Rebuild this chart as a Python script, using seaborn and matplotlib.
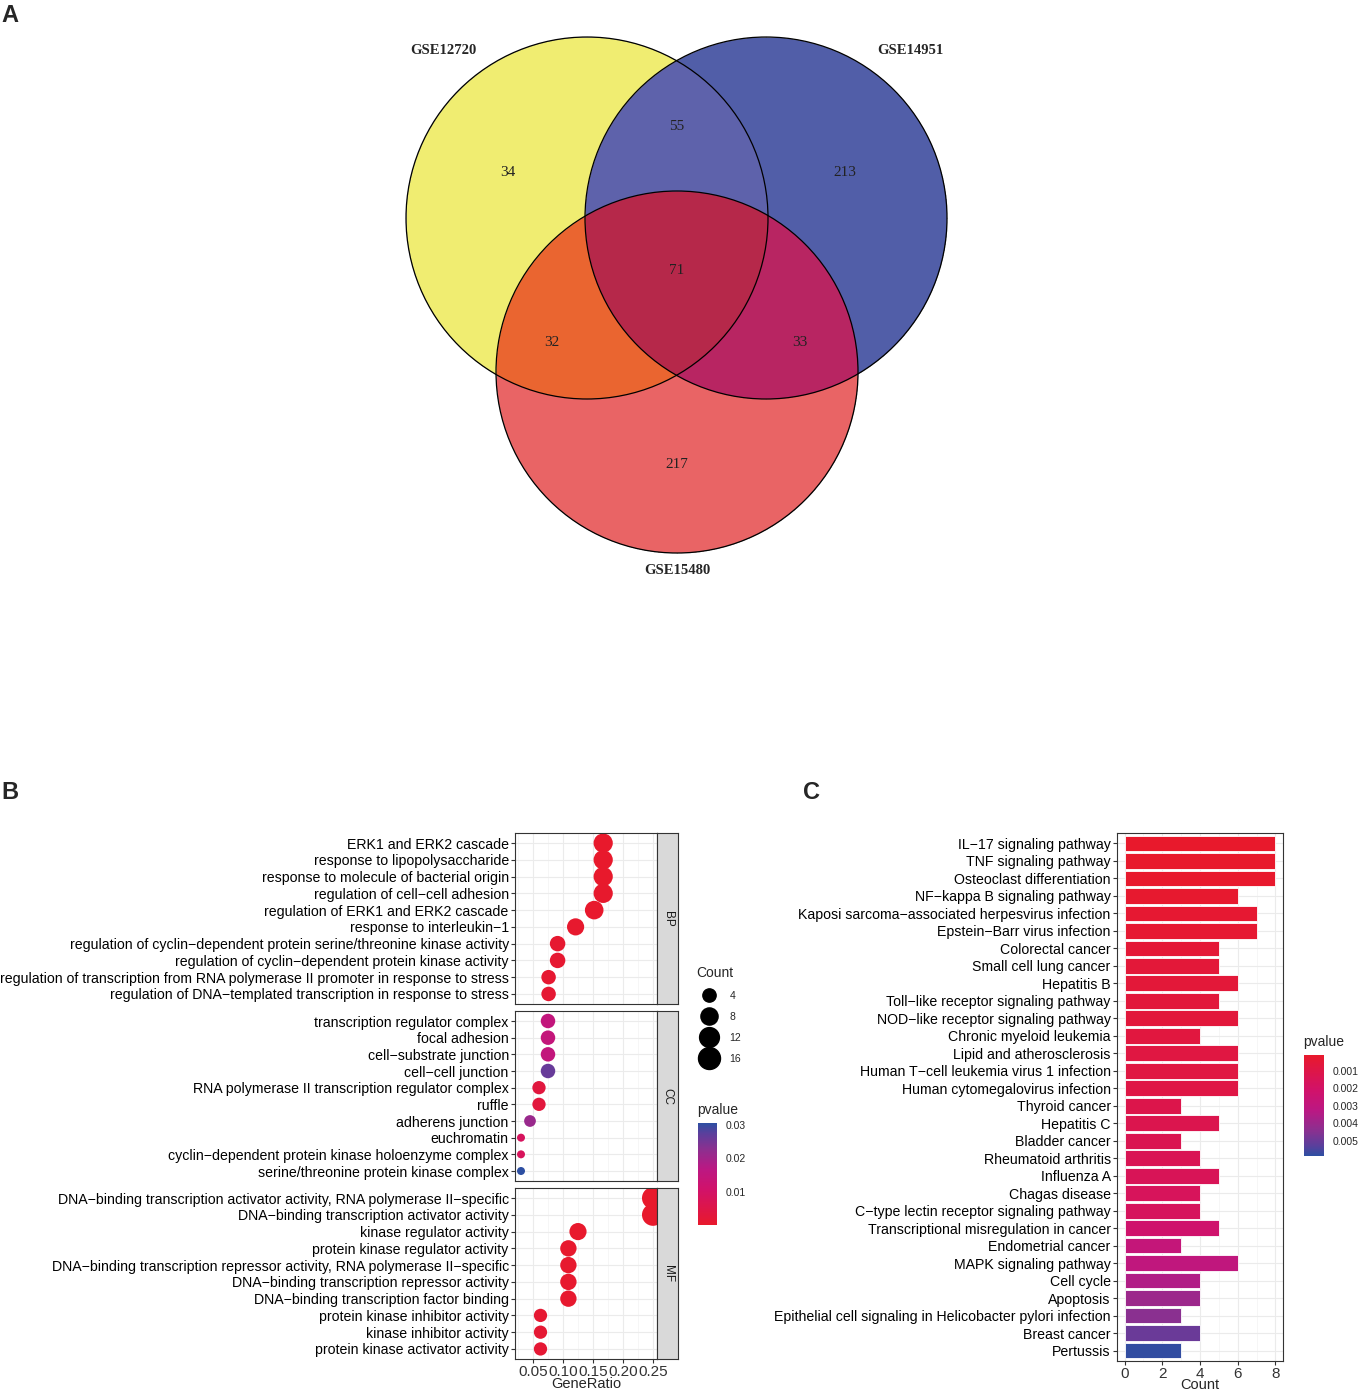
import numpy as np
import pandas as pd
import matplotlib
matplotlib.use("Agg")
import matplotlib.pyplot as plt
import seaborn as sns
from matplotlib.colors import LinearSegmentedColormap, Normalize, to_rgba
from matplotlib.colorbar import ColorbarBase
from matplotlib.lines import Line2D
from matplotlib.patches import Circle

# ---- data -------------------------------------------------------------
venn_sets = ["GSE12720", "GSE14951", "GSE15480"]
venn_regions = ["A", "B", "C", "AB", "AC", "BC", "ABC"]
venn_counts = [34, 213, 217, 55, 32, 33, 71]

bp_terms = [
    "ERK1 and ERK2 cascade",
    "response to lipopolysaccharide",
    "response to molecule of bacterial origin",
    "regulation of cell\u2212cell adhesion",
    "regulation of ERK1 and ERK2 cascade",
    "response to interleukin\u22121",
    "regulation of cyclin\u2212dependent protein serine/threonine kinase activity",
    "regulation of cyclin\u2212dependent protein kinase activity",
    "regulation of transcription from RNA polymerase II promoter in response to stress",
    "regulation of DNA\u2212templated transcription in response to stress",
]
bp_ratio = [0.167, 0.167, 0.167, 0.167, 0.152, 0.121, 0.091, 0.091, 0.076, 0.076]
bp_count = [11, 11, 11, 11, 10, 8, 6, 6, 5, 5]
bp_pvalue = [0.00001, 0.00002, 0.00002, 0.0003, 0.0002, 0.0004, 0.0008, 0.0009, 0.0010, 0.0012]

cc_terms = [
    "transcription regulator complex",
    "focal adhesion",
    "cell\u2212substrate junction",
    "cell\u2212cell junction",
    "RNA polymerase II transcription regulator complex",
    "ruffle",
    "adherens junction",
    "euchromatin",
    "cyclin\u2212dependent protein kinase holoenzyme complex",
    "serine/threonine protein kinase complex",
]
cc_ratio = [0.075, 0.075, 0.075, 0.075, 0.060, 0.060, 0.045, 0.030, 0.030, 0.030]
cc_count = [5, 5, 5, 5, 4, 4, 3, 2, 2, 2]
cc_pvalue = [0.0150, 0.0145, 0.0150, 0.0262, 0.0032, 0.0030, 0.0210, 0.0085, 0.0080, 0.0305]

mf_terms = [
    "DNA\u2212binding transcription activator activity, RNA polymerase II\u2212specific",
    "DNA\u2212binding transcription activator activity",
    "kinase regulator activity",
    "protein kinase regulator activity",
    "DNA\u2212binding transcription repressor activity, RNA polymerase II\u2212specific",
    "DNA\u2212binding transcription repressor activity",
    "DNA\u2212binding transcription factor binding",
    "protein kinase inhibitor activity",
    "kinase inhibitor activity",
    "protein kinase activator activity",
]
mf_ratio = [0.250, 0.250, 0.125, 0.109, 0.109, 0.109, 0.109, 0.0625, 0.0625, 0.0625]
mf_count = [16, 16, 8, 7, 7, 7, 7, 4, 4, 4]
mf_pvalue = [0.00001, 0.00001, 0.0002, 0.0004, 0.0005, 0.0006, 0.0006, 0.0010, 0.0012, 0.0014]

kegg_terms = [
    "IL\u221217 signaling pathway", "TNF signaling pathway", "Osteoclast differentiation",
    "NF\u2212kappa B signaling pathway", "Kaposi sarcoma\u2212associated herpesvirus infection",
    "Epstein\u2212Barr virus infection", "Colorectal cancer", "Small cell lung cancer",
    "Hepatitis B", "Toll\u2212like receptor signaling pathway", "NOD\u2212like receptor signaling pathway",
    "Chronic myeloid leukemia", "Lipid and atherosclerosis", "Human T\u2212cell leukemia virus 1 infection",
    "Human cytomegalovirus infection", "Thyroid cancer", "Hepatitis C", "Bladder cancer",
    "Rheumatoid arthritis", "Influenza A", "Chagas disease", "C\u2212type lectin receptor signaling pathway",
    "Transcriptional misregulation in cancer", "Endometrial cancer", "MAPK signaling pathway",
    "Cell cycle", "Apoptosis", "Epithelial cell signaling in Helicobacter pylori infection",
    "Breast cancer", "Pertussis",
]
kegg_count = [8, 8, 8, 6, 7, 7, 5, 5, 6, 5, 6, 4, 6, 6, 6, 3, 5, 3, 4, 5, 4, 4, 5, 3, 6, 4, 4, 3, 4, 3]
kegg_pvalue = [0.00010, 0.00010, 0.00012, 0.00020, 0.00030, 0.00030, 0.00040, 0.00050, 0.00050,
               0.00060, 0.00060, 0.00070, 0.00080, 0.00080, 0.00090, 0.00110, 0.00120, 0.00130,
               0.00140, 0.00150, 0.00160, 0.00170, 0.00220, 0.00280, 0.00300, 0.00350, 0.00400,
               0.00440, 0.00500, 0.00580]

# ---- layout helpers ---------------------------------------------------
W, H = 1358, 1391
fig = plt.figure(figsize=(W / 100, H / 100), dpi=100)
sns.set_style("white")
plt.rcParams["font.family"] = ["Liberation Sans", "DejaVu Sans"]

LABEL_FS = 10.2
TICK_FS = 11


def ax_px(x0, y0, x1, y1):
    return fig.add_axes([x0 / W, 1 - y1 / H, (x1 - x0) / W, (y1 - y0) / H])


cmap = LinearSegmentedColormap.from_list(
    "pval", [(0.0, "#E8192C"), (0.35, "#D1126A"), (0.55, "#BB1883"),
             (0.75, "#8A3090"), (0.9, "#5A3F9C"), (1.0, "#2D4FA2")])

# ---- panel A: Venn ----------------------------------------------------
axv = ax_px(0, 0, W, 640)
axv.set_xlim(0, W)
axv.set_ylim(640, 0)
axv.axis("off")
centers = [(587, 218), (766, 218), (677, 372)]
radius = 181
region_colors = {1: "#F0EE71", 2: "#525FA8", 4: "#EA6465", 3: "#5E62AB",
                 5: "#EB6530", 6: "#B82562", 7: "#B6284A"}
xs = np.arange(400, 960, 0.5)
ys = np.arange(30, 560, 0.5)
gx, gy = np.meshgrid(xs, ys)
code = np.zeros(gx.shape, dtype=int)
for i, (cx, cy) in enumerate(centers):
    code += ((gx - cx) ** 2 + (gy - cy) ** 2 <= radius ** 2).astype(int) << i
img = np.zeros(gx.shape + (4,))
for k, col in region_colors.items():
    img[code == k] = to_rgba(col)
axv.imshow(img, extent=(400, 960, 560, 30), origin="upper", aspect="auto",
           interpolation="antialiased")
for cx, cy in centers:
    axv.add_patch(Circle((cx, cy), radius, fill=False, ec="black", lw=0.9))

region_label_xy = {"A": (508, 172), "B": (845, 172), "C": (677, 464), "AB": (677, 126),
                   "AC": (552, 342), "BC": (800, 342), "ABC": (677, 270)}
for reg, n in zip(venn_regions, venn_counts):
    x, y = region_label_xy[reg]
    axv.text(x, y, str(n), ha="center", va="center", fontsize=11,
             family="Liberation Serif", color="#222222")
set_label_xy = [(443, 50), (910, 50), (677, 571)]
for name, (x, y) in zip(venn_sets, set_label_xy):
    axv.text(x, y, name, ha="center", va="center", fontsize=10.5,
             family="Liberation Serif", fontweight="bold")

# ---- panel B: GO dot plot ---------------------------------------------
def size_of(c):
    d = 8 + 14 * np.sqrt((c - 2) / 14)  # diameter in px
    return (d * 0.72) ** 2


all_counts = sorted(set(bp_count + cc_count + mf_count + [4, 8, 12, 16]))
size_map = {c: size_of(c) for c in all_counts}
norm_b = Normalize(0, 0.0305)

facets = [
    ("BP", bp_terms, bp_ratio, bp_count, bp_pvalue, 833, 1004),
    ("CC", cc_terms, cc_ratio, cc_count, cc_pvalue, 1011, 1181),
    ("MF", mf_terms, mf_ratio, mf_count, mf_pvalue, 1188, 1359),
]
for k, (ont, terms, ratio, cnt, pv, top, bot) in enumerate(facets):
    df = pd.DataFrame({"Description": terms, "GeneRatio": ratio, "Count": cnt, "pvalue": pv})
    ax = ax_px(515, top, 657, bot)
    ax.set_axisbelow(True)
    sns.scatterplot(data=df, x="GeneRatio", y="Description", size="Count", sizes=size_map,
                    hue="pvalue", hue_norm=norm_b, palette=cmap, legend=False,
                    linewidth=0, ax=ax)
    ax.set_xlim(0.02, 0.2567)
    ax.set_ylim(len(terms) - 0.4, -0.6)
    ax.set_xticks([0.05, 0.10, 0.15, 0.20, 0.25])
    ax.set_xticks([0.025, 0.075, 0.125, 0.175, 0.225], minor=True)
    ax.grid(True, which="major", color="#EBEBEB", lw=0.8)
    ax.grid(True, which="minor", axis="x", color="#F3F3F3", lw=0.5)
    for s in ax.spines.values():
        s.set_color("#333333")
        s.set_linewidth(0.8)
    ax.tick_params(axis="y", which="major", length=3, color="#333333", labelsize=LABEL_FS,
                   labelcolor="black", pad=1.5, left=True)
    ax.tick_params(axis="x", which="major", length=3, color="#333333", labelsize=TICK_FS,
                   labelcolor="#333333", pad=1, bottom=True)
    ax.tick_params(which="minor", length=0)
    ax.set_ylabel("")
    if k < 2:
        ax.set_xlabel("")
        ax.tick_params(axis="x", labelbottom=False, bottom=False)
    else:
        ax.set_xlabel("GeneRatio", fontsize=10.5, labelpad=-1)
    st = ax_px(657, top, 678, bot)
    st.set_facecolor("#D9D9D9")
    st.set_xticks([])
    st.set_yticks([])
    for s in st.spines.values():
        s.set_color("#333333")
        s.set_linewidth(0.8)
    st.text(0.5, 0.5, ont, rotation=270, ha="center", va="center", fontsize=8.5,
            color="#1A1A1A", transform=st.transAxes)

# size legend
handles = [Line2D([], [], ls="", marker="o", color="black",
                  markersize=np.sqrt(size_map[c])) for c in [4, 8, 12, 16]]
leg = fig.legend(handles, ["4", "8", "12", "16"], title="Count", loc="upper left",
                 bbox_to_anchor=(692 / W, 1 - 962 / H), frameon=False, fontsize=7.5,
                 title_fontsize=10, labelspacing=1.05, handletextpad=0.7,
                 borderaxespad=0, handlelength=2.5, alignment="left")

cax_b = ax_px(698, 1123, 717, 1225)
cb_b = ColorbarBase(cax_b, cmap=cmap, norm=norm_b, ticks=[0.01, 0.02, 0.03])
cb_b.outline.set_visible(False)
cb_b.set_ticklabels(["0.01", "0.02", "0.03"])
cax_b.tick_params(direction="in", length=3, width=0.8, color="white", labelsize=7.5,
                  left=True, right=True, pad=6)
fig.text(697 / W, 1 - 1117 / H, "pvalue", fontsize=10, ha="left", va="bottom")

# ---- panel C: KEGG bar plot -------------------------------------------
norm_c = Normalize(0.00008, 0.00587)
kegg_colors = [cmap(norm_c(p)) for p in kegg_pvalue]
dfk = pd.DataFrame({"Description": kegg_terms, "Count": kegg_count, "pvalue": kegg_pvalue})
axc = ax_px(1117, 833, 1283, 1361)
axc.set_axisbelow(True)
sns.barplot(data=dfk, x="Count", y="Description", hue="Description", palette=kegg_colors,
            legend=False, orient="h", width=0.9, saturation=1, edgecolor="white",
            linewidth=0.6, ax=axc)
axc.set_xlim(-0.4, 8.4)
axc.set_ylim(len(kegg_terms) - 0.4, -0.6)
axc.set_xticks([0, 2, 4, 6, 8])
axc.set_xticks([1, 3, 5, 7], minor=True)
axc.grid(True, which="major", color="#EBEBEB", lw=0.8)
axc.grid(True, which="minor", axis="x", color="#F3F3F3", lw=0.5)
for s in axc.spines.values():
    s.set_visible(True)
    s.set_color("#333333")
    s.set_linewidth(0.8)
axc.tick_params(axis="y", length=3, color="#333333", labelsize=LABEL_FS, labelcolor="black",
                pad=1.5, left=True)
axc.tick_params(axis="x", which="major", length=3, color="#333333", labelsize=TICK_FS,
                labelcolor="#333333", pad=1, bottom=True)
axc.tick_params(which="minor", length=0)
axc.set_ylabel("")
axc.set_xlabel("Count", fontsize=10.5, labelpad=-1.5)

cax_c = ax_px(1304, 1055, 1324, 1156)
cb_c = ColorbarBase(cax_c, cmap=cmap, norm=norm_c,
                    ticks=[0.001, 0.002, 0.003, 0.004, 0.005])
cb_c.outline.set_visible(False)
cb_c.set_ticklabels(["0.001", "0.002", "0.003", "0.004", "0.005"])
cax_c.invert_yaxis()
cax_c.tick_params(direction="in", length=3, width=0.8, color="white", labelsize=7.5,
                  left=True, right=True, pad=6)
fig.text(1303 / W, 1 - 1049 / H, "pvalue", fontsize=10, ha="left", va="bottom")

# ---- panel letters ----------------------------------------------------
for letter, x, y in [("A", 10, 15), ("B", 10, 793), ("C", 812, 793)]:
    fig.text(x / W, 1 - y / H, letter, fontsize=17, fontweight="bold",
             ha="center", va="center")

fig.savefig("out.png", dpi=100)
